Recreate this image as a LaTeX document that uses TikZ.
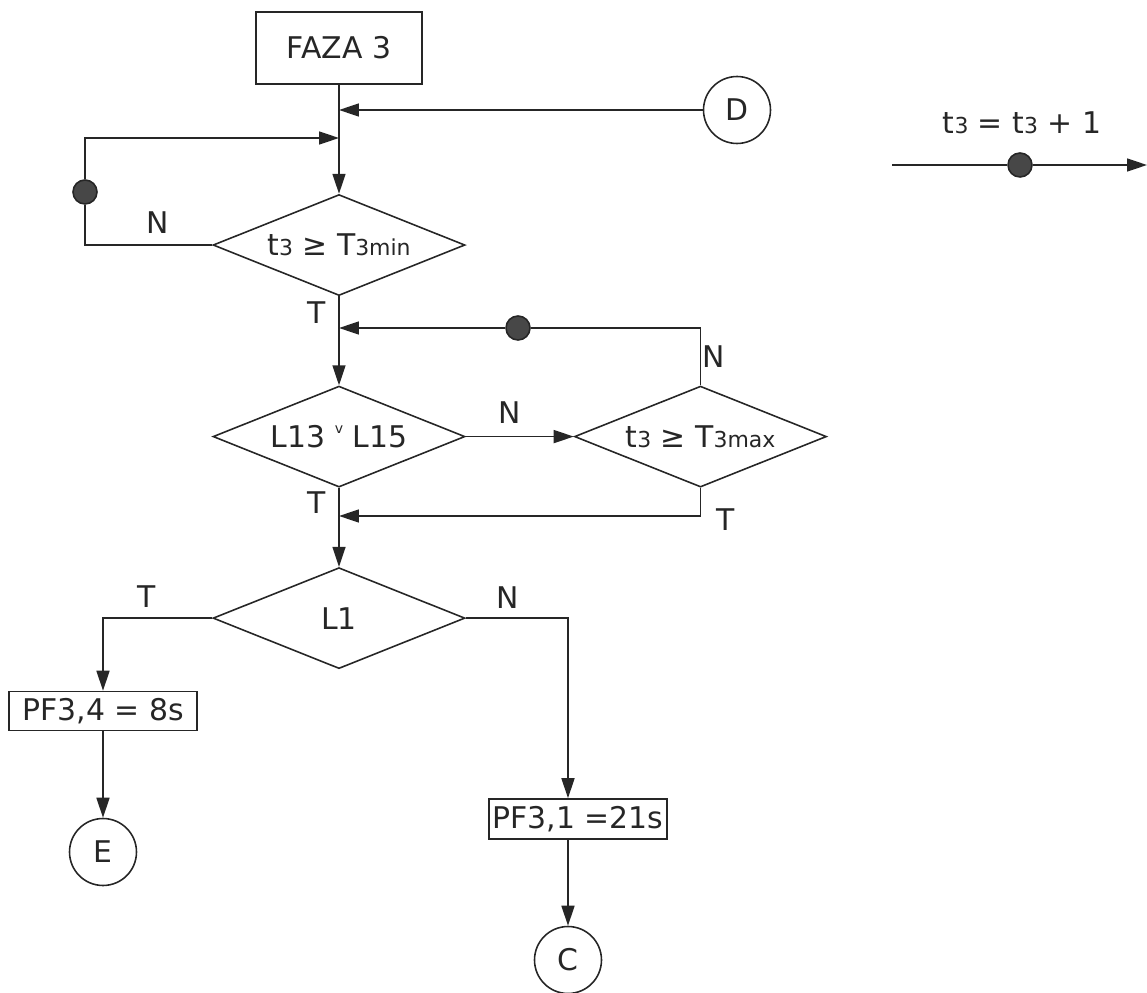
\documentclass[tikz,border=0pt]{standalone}
\usepackage{fontspec}
\setmainfont{DejaVu Sans}
\usetikzlibrary{shapes.geometric,positioning,arrows.meta,calc}
\tikzset{
    decision/.style={
        diamond,draw,aspect=2.5,inner sep=0pt,minimum width=5.04cm,minimum height=2.02cm
    },
    procbox/.style={
        rectangle,draw,inner sep=0pt
    },
    connector/.style={
        circle,draw,minimum size=1.34cm,inner sep=0pt
    },
    tickdot/.style={
        circle,draw,fill=black!72,minimum size=0.48cm,inner sep=0pt
    },
    lbl/.style={inner sep=0pt}
}
\newcommand{\sbs}[1]{{\fontsize{12.5}{14}\selectfont #1}}
\newcommand{\orsym}{\raisebox{8pt}{\fontsize{8}{9}\selectfont v}}

\begin{document}
\begin{tikzpicture}[x=0.02cm, y=-0.02cm, line width=0.9pt, color=black!85,
    >={Triangle[length=0.4cm,width=0.26cm]}, font=\fontsize{17}{20}\selectfont]
\useasboundingbox (0,0) rectangle (1147,993);

\node[procbox,minimum width=3.32cm,minimum height=1.44cm] (faza) at (339,48) {FAZA 3};
\node[decision,below=2.18cm of faza] (d1) {t\sbs{3} ≥ T\sbs{3min}};
\node[decision,below=1.78cm of d1] (d2) {L13 \orsym{} L15};
\node[decision,right=2.16cm of d2] (d3) {t\sbs{3} ≥ T\sbs{3max}};
\node[decision,below=1.58cm of d2] (d4) {L1};
\node[procbox,minimum width=3.76cm,minimum height=0.78cm] (pf34) at (103,711) {PF3,4 = 8s};
\node[procbox,minimum width=3.56cm,minimum height=0.8cm] (pf31) at (578,819) {PF3,1 =21s};
\node[connector] (cD) at (737,110) {D};
\node[connector] (cE) at (103,852) {E};
\node[connector] (cC) at (568,960) {C};

% tick markers
\node[tickdot] (dot1) at (85,192) {};
\node[tickdot] (dot2) at (518,328) {};
\node[tickdot] (dot3) at (1020,165) {};

\coordinate (jD) at (faza.south |- 0,110);
\coordinate (jL) at (faza.south |- 0,138);
\coordinate (j2) at (d1.south |- 0,328);
\coordinate (j3) at (d2.south |- 0,516);

\draw[->] (faza) -- (d1);
\draw[->] (cD) -- (jD);
\draw (d1.west) -| (dot1);
\draw[->] (dot1) |- (jL);
\draw[->] (d1) -- (d2);
\draw (d3.north) |- (dot2);
\draw[->] (dot2) -- (j2);
\draw[->] (d2) -- (d3);
\draw[->] (d3.south) |- (j3);
\draw[->] (d2) -- (d4);
\draw[->] (d4.west) -| (pf34.north);
\draw[->] (pf34) -- (cE);
\draw[->] (d4.east) -| (pf31.north -| cC.north);
\draw[->] (pf31.south -| cC.north) -- (cC);

% branch labels
\node[lbl] (lN1) at (158,223) {N};
\node[lbl] (lT1) at (317,313) {T};
\node[lbl] (lN3) at (714,357) {N};
\node[lbl] (lN2) at (510,413) {N};
\node[lbl] (lT2) at (317,503) {T};
\node[lbl] (lT3) at (726,520) {T};
\node[lbl] (lT4) at (147,597) {T};
\node[lbl] (lN4) at (508,598) {N};

% legend
\node[lbl] (leg) at (1022,123) {t\sbs{3} = t\sbs{3} + 1};
\coordinate (legA) at (892,165);
\coordinate (legB) at (1147,165);
\draw (legA) -- (dot3);
\draw[->] (dot3) -- (legB);
\end{tikzpicture}
\end{document}
